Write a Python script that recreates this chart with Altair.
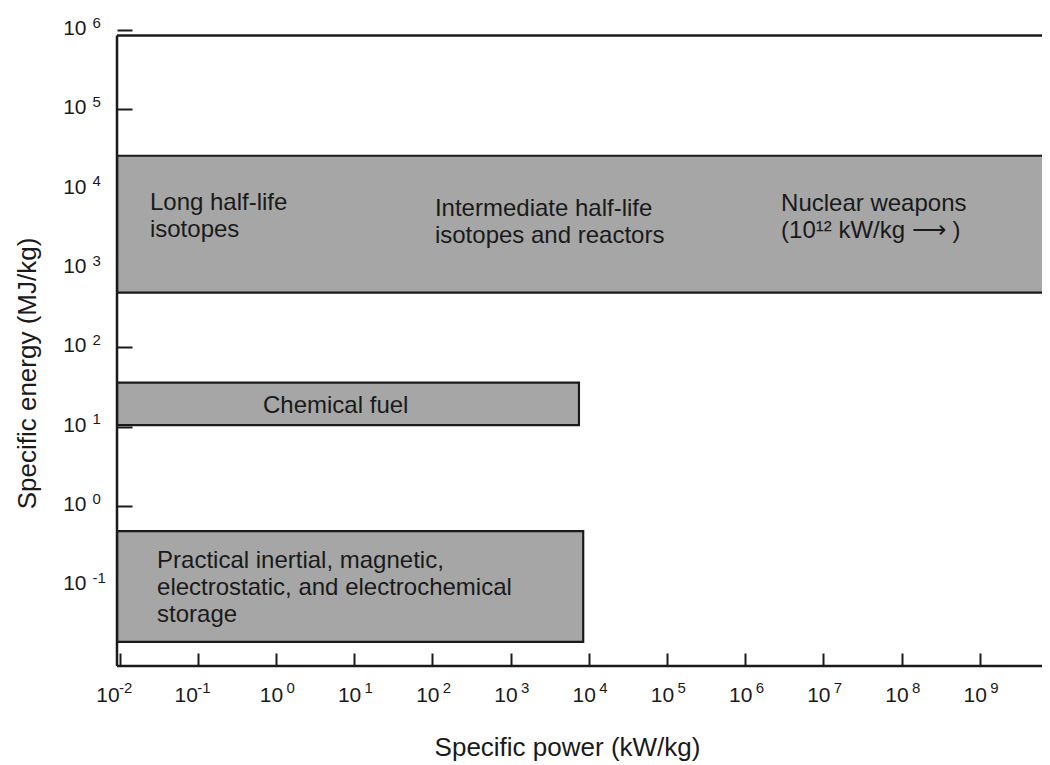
import altair as alt
import pandas as pd

FONT = "Liberation Sans, Arial, Helvetica, sans-serif"
INK = "#1a1a1a"

# ---- data -------------------------------------------------------------
# energy-storage regions (specific power range x, specific energy range y)
region_names = ["Nuclear", "Chemical fuel", "Storage"]
region_power_low = [0.0093, 0.0093, 0.0093]
region_power_high = [1e12, 7500, 8500]
region_energy_low = [490, 10.5, 0.0195]
region_energy_high = [2.6e4, 36, 0.485]

# annotations (anchored in data coordinates)
note_text = [
    "Long half-life\nisotopes",
    "Intermediate half-life\nisotopes and reactors",
    "Nuclear weapons\n(10\u00b9\u00b2 kW/kg \u27f6 )",
    "Chemical fuel",
    "Practical inertial, magnetic,\nelectrostatic, and electrochemical\nstorage",
]
note_power = [0.0245, 108, 2.88e6, 0.684, 0.0302]
note_energy = [9300, 7860, 9080, 25.9, 0.288]

# axes: tick values, base text and exponent text
x_tick_values = [1e-2, 1e-1, 1e0, 1e1, 1e2, 1e3, 1e4, 1e5, 1e6, 1e7, 1e8, 1e9]
x_tick_exponents = ["-2", "-1", "0", "1", "2", "3", "4", "5", "6", "7", "8", "9"]
y_tick_values = [1e-1, 1e0, 1e1, 1e2, 1e3, 1e4, 1e5, 1e6]
y_tick_exponents = ["-1", "0", "1", "2", "3", "4", "5", "6"]
tick_base = "10"

X_MIN, X_MAX = 10 ** -2.032, 10 ** 9.796
Y_MIN, Y_MAX = 10 ** -2.015, 1e6
Y_FRAME_TOP = 10 ** 5.93

# ---- chart ------------------------------------------------------------
regions = pd.DataFrame({
    "name": region_names,
    "p0": region_power_low,
    "p1": region_power_high,
    "e0": region_energy_low,
    "e1": region_energy_high,
})
notes = pd.DataFrame({"text": note_text, "p": note_power, "e": note_energy})


def xs():
    return alt.Scale(type="log", domain=[X_MIN, X_MAX], nice=False)


def ys():
    return alt.Scale(type="log", domain=[Y_MIN, Y_MAX], nice=False)


def arr(labels):
    return "[" + ",".join("'" + s + "'" for s in labels) + "]"


NEG = "datum.value < 0.5"

x_axis = alt.Axis(
    orient="bottom",
    values=x_tick_values,
    labelExpr="'" + tick_base + "'",
    title="Specific power (kW/kg)",
    domain=False, grid=False,
    offset=-13, tickSize=13, tickWidth=2, tickColor=INK,
    labelFont=FONT, labelFontSize=21, labelColor=INK, labelPadding=18,
    labelFlush=False, labelOverlap=False, labelBaseline="top", labelAlign="center",
    labelOffset={"condition": {"test": NEG, "value": -12}, "value": -5},
    titleFont=FONT, titleFontSize=26, titleFontWeight="normal", titleColor=INK,
    titleX=450, titleY=102, titleBaseline="alphabetic", titleAlign="center",
)
x_axis_exp = alt.Axis(
    orient="bottom",
    values=x_tick_values,
    labelExpr=arr(x_tick_exponents) + "[round(log(datum.value)/LN10)+2]",
    title=None,
    domain=False, grid=False,
    offset=-13, tickSize=13, tickOpacity=0,
    labelFont=FONT, labelFontSize=15, labelColor=INK, labelPadding=14,
    labelFlush=False, labelOverlap=False, labelBaseline="top", labelAlign="left",
    labelOffset={"condition": {"test": NEG, "value": -1}, "value": 10},
)
y_axis = alt.Axis(
    orient="left",
    values=y_tick_values,
    labelExpr="'" + tick_base + "'",
    title="Specific energy (MJ/kg)",
    domain=False, grid=False,
    offset=-15, tickSize=15, tickWidth=2, tickColor=INK,
    labelFont=FONT, labelFontSize=21, labelColor=INK, labelPadding=31,
    labelFlush=False, labelOverlap=False, labelAlign="right", labelBaseline="middle",
    labelOffset=-1.5,
    titleFont=FONT, titleFontSize=26, titleFontWeight="normal", titleColor=INK,
    titleAngle=270, titleX=-97, titleY=343, titleBaseline="alphabetic", titleAlign="center",
)
y_axis_exp = alt.Axis(
    orient="left",
    values=y_tick_values,
    labelExpr=arr(y_tick_exponents) + "[round(log(datum.value)/LN10)+1]",
    title=None,
    domain=False, grid=False,
    offset=-15, tickSize=15, tickOpacity=0,
    labelFont=FONT, labelFontSize=15, labelColor=INK, labelPadding=25,
    labelFlush=False, labelOverlap=False, labelAlign="left", labelBaseline="middle",
    labelOffset=-8,
)

rects = alt.Chart(regions).mark_rect(
    fill="#a6a6a6", stroke=INK, strokeWidth=2.2, clip=True
).encode(
    x=alt.X("p0:Q", scale=xs(), axis=x_axis),
    x2="p1:Q",
    y=alt.Y("e0:Q", scale=ys(), axis=y_axis),
    y2="e1:Q",
)

texts = alt.Chart(notes).mark_text(
    align="left", baseline="top", font=FONT, fontSize=24, lineBreak="\n",
    lineHeight=27, color=INK
).encode(
    x=alt.X("p:Q", scale=xs(), axis=x_axis),
    y=alt.Y("e:Q", scale=ys(), axis=y_axis),
    text="text:N",
)

frame_style = dict(color=INK, strokeWidth=2.5)
left_line = alt.Chart().mark_rule(**frame_style).encode(
    x=alt.datum(X_MIN), y=alt.datum(Y_MIN), y2=alt.datum(Y_FRAME_TOP)
)
bottom_line = alt.Chart().mark_rule(**frame_style).encode(
    y=alt.datum(Y_MIN), x=alt.datum(X_MIN), x2=alt.datum(X_MAX)
)
top_line = alt.Chart().mark_rule(**frame_style).encode(
    y=alt.datum(Y_FRAME_TOP), x=alt.datum(X_MIN), x2=alt.datum(X_MAX)
)

main = alt.layer(rects, texts, left_line, bottom_line, top_line)

# exponent (superscript) tick labels on a second, identical pair of scales
exps = alt.Chart(regions).mark_rect(opacity=0, clip=True).encode(
    x=alt.X("p0:Q", scale=xs(), axis=x_axis_exp),
    x2="p1:Q",
    y=alt.Y("e0:Q", scale=ys(), axis=y_axis_exp),
    y2="e1:Q",
)

chart = alt.layer(main, exps).resolve_scale(
    x="independent", y="independent"
).properties(
    width=925,
    height=636,
    autosize=alt.AutoSizeParams(type="none"),
    padding={"left": 109, "top": 22, "right": 0, "bottom": 96},
    background="white",
).configure_view(stroke=None)

chart.save("out.html", embed_options={"renderer": "svg", "actions": False})
